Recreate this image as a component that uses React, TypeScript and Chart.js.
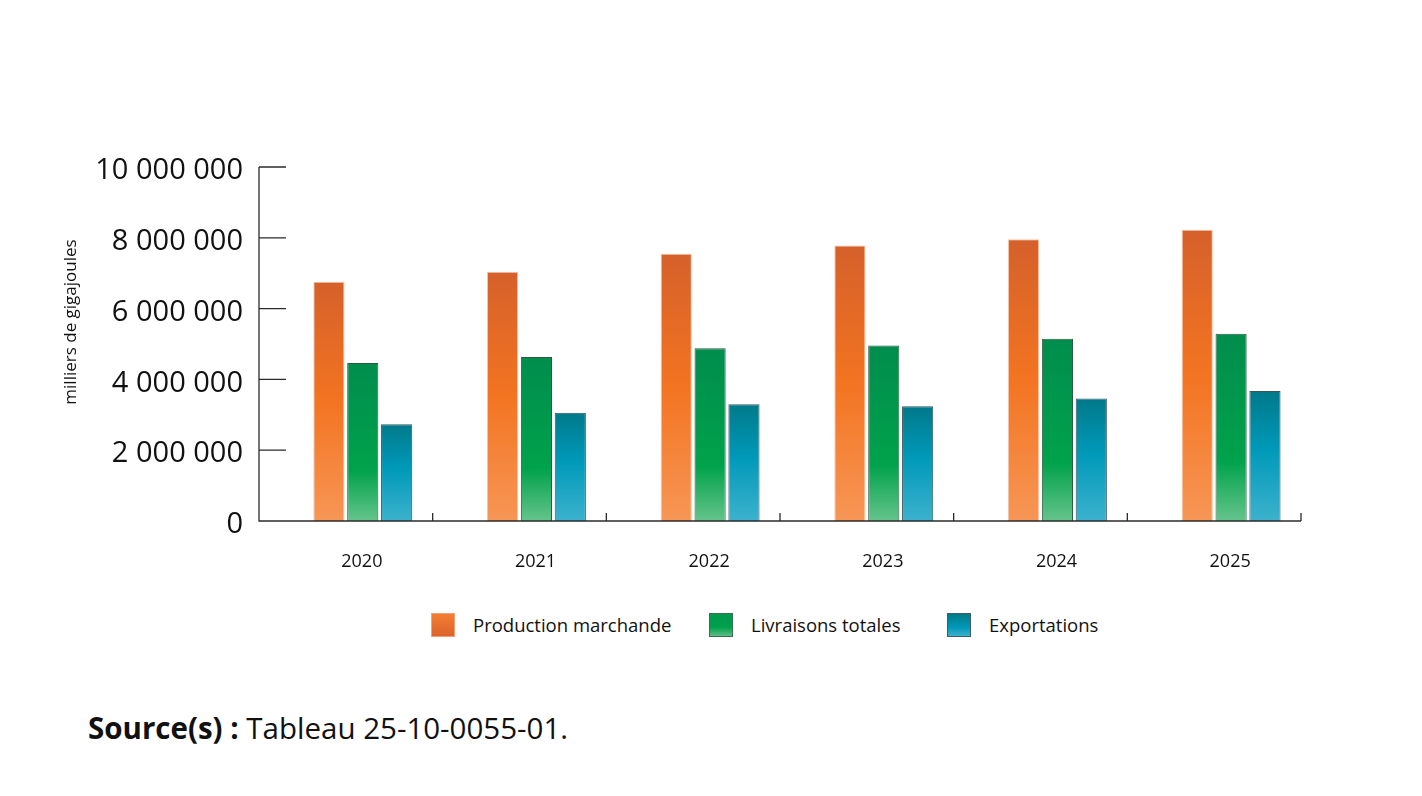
import React, { useEffect, useRef } from 'react';
import { Chart, registerables } from 'chart.js';

Chart.register(...registerables);

const years = ['2020', '2021', '2022', '2023', '2024', '2025'];
// empty leading slot in each group (drawn as nothing in the original)
const reserve = [0, 0, 0, 0, 0, 0];
const production = [6760000, 7040000, 7550000, 7780000, 7960000, 8230000];
const livraisons = [4460000, 4630000, 4880000, 4960000, 5150000, 5290000];
const exportations = [2730000, 3060000, 3300000, 3240000, 3460000, 3670000];
const yTicks = [0, 2000000, 4000000, 6000000, 8000000, 10000000];

const FONT = "'Open Sans', 'Noto Sans', sans-serif";

const fmt = (v: number) => String(v).replace(/\B(?=(\d{3})+(?!\d))/g, ' ');

// vertical gradient stretched over each bar's own height
const barFill = (stops: [number, string][], fallback: string) => (ctx: any) => {
  const chart = ctx.chart;
  if (ctx.type !== 'data' || !chart.chartArea) return fallback;
  const y = chart.scales.y;
  const top = y.getPixelForValue(ctx.raw as number);
  const base = y.getPixelForValue(0);
  if (!isFinite(top) || base - top < 1) return fallback;
  const g = chart.ctx.createLinearGradient(0, top, 0, base);
  stops.forEach(([o, c]) => g.addColorStop(o, c));
  return g;
};

const axesPlugin = {
  id: 'customAxes',
  afterDatasetsDraw(chart: any) {
    const { ctx, chartArea: a, scales } = chart;
    const x = scales.x;
    const y = scales.y;
    ctx.save();
    ctx.strokeStyle = '#2b2b2b';
    ctx.lineWidth = 1.3;
    ctx.beginPath();
    ctx.moveTo(a.left, a.top);
    ctx.lineTo(a.left, a.bottom);
    ctx.lineTo(a.right, a.bottom);
    yTicks.forEach((t) => {
      const py = y.getPixelForValue(t);
      ctx.moveTo(a.left, py);
      ctx.lineTo(a.left + 27, py);
    });
    for (let i = 1; i <= years.length; i++) {
      const px = x.getPixelForValue(i - 0.5);
      ctx.moveTo(px, a.bottom);
      ctx.lineTo(px, a.bottom - 8);
    }
    ctx.stroke();

    // y axis title
    ctx.fillStyle = '#111';
    ctx.font = `17px ${FONT}`;
    ctx.textAlign = 'center';
    ctx.textBaseline = 'middle';
    ctx.translate(y.left + 16, (a.top + a.bottom) / 2 - 22);
    ctx.rotate(-Math.PI / 2);
    ctx.fillText('milliers de gigajoules', 0, 0);
    ctx.restore();
  },
};

const legendItems = [
  { label: 'Production marchande', left: 431, bg: 'linear-gradient(#f47d32, #dc632c)', border: '#f3a07a' },
  { label: 'Livraisons totales', left: 709, bg: 'linear-gradient(#009a4e, #00a04b 60%, #5cbd84)', border: '#3c6e52' },
  { label: 'Exportations', left: 947, bg: 'linear-gradient(#007b87, #0098b8 60%, #3ab0cb)', border: '#3f5f66' },
];

const App: React.FC = () => {
  const chartRef = useRef<HTMLCanvasElement>(null);
  const chartInstance = useRef<Chart | null>(null);

  useEffect(() => {
    document.body.style.margin = '0';
    if (chartInstance.current) {
      chartInstance.current.destroy();
    }
    if (chartRef.current) {
      chartInstance.current = new Chart(chartRef.current, {
        type: 'bar',
        data: {
          labels: years,
          datasets: [
            {
              label: '',
              data: reserve,
              backgroundColor: '#999',
              borderWidth: 0,
            },
            {
              label: 'Production marchande',
              data: production,
              backgroundColor: barFill(
                [[0, '#d5602a'], [0.5, '#f37421'], [1, '#f79656']],
                '#f37421'
              ),
              borderColor: '#f6c3a6',
              borderWidth: 1,
            },
            {
              label: 'Livraisons totales',
              data: livraisons,
              backgroundColor: barFill(
                [[0, '#008d4d'], [0.68, '#00a24b'], [1, '#65c48b']],
                '#00a04b'
              ),
              borderColor: '#2f5a42',
              borderWidth: 1,
            },
            {
              label: 'Exportations',
              data: exportations,
              backgroundColor: barFill(
                [[0, '#00798a'], [0.45, '#0099b9'], [1, '#3cb2cd']],
                '#0099b9'
              ),
              borderColor: '#36565c',
              borderWidth: 1,
            },
          ],
        },
        options: {
          responsive: false,
          animation: false,
          maintainAspectRatio: false,
          layout: { padding: { left: 55, top: 167, right: 121, bottom: 19 } },
          datasets: {
            bar: { categoryPercentage: 0.78, barPercentage: 0.92 },
          },
          plugins: {
            legend: { display: false },
            tooltip: { enabled: false },
          },
          scales: {
            x: {
              grid: { display: false, drawTicks: false },
              border: { display: false },
              ticks: {
                color: '#111',
                font: { family: FONT, size: 18 },
                padding: 30,
                labelOffset: 16,
                maxRotation: 0,
              },
              afterFit: (s: any) => {
                s.height = 60;
              },
            },
            y: {
              min: 0,
              max: 10000000,
              afterBuildTicks: (s: any) => {
                s.ticks = yTicks.map((v) => ({ value: v }));
              },
              grid: { display: false, drawTicks: false },
              border: { display: false },
              ticks: {
                color: '#111',
                font: { family: FONT, size: 29 },
                padding: 16,
                labelOffset: 4,
                callback: (v: any) => fmt(Number(v)),
              },
              afterFit: (s: any) => {
                s.width = 204;
              },
            },
          },
        },
        plugins: [axesPlugin],
      });
    }
    return () => {
      if (chartInstance.current) {
        chartInstance.current.destroy();
        chartInstance.current = null;
      }
    };
  }, []);

  return (
    <div style={{ position: 'relative', width: 1422, height: 796, background: '#fff', fontFamily: FONT }}>
      <canvas ref={chartRef} width={1422} height={600} style={{ position: 'absolute', left: 0, top: 0 }} />
      {legendItems.map((it) => (
        <div
          key={it.label}
          style={{ position: 'absolute', left: it.left, top: 612, display: 'flex', alignItems: 'center' }}
        >
          <span
            style={{
              display: 'inline-block',
              width: 24,
              height: 24,
              background: it.bg,
              border: `1px solid ${it.border}`,
              boxSizing: 'border-box',
              marginRight: 18,
            }}
          />
          <span style={{ fontSize: 18.5, color: '#111' }}>{it.label}</span>
        </div>
      ))}
      <div style={{ position: 'absolute', left: 88, top: 707, fontSize: 29.5, color: '#111' }}>
        <b>Source(s) :</b> Tableau 25-10-0055-01.
      </div>
    </div>
  );
};

export default App;
